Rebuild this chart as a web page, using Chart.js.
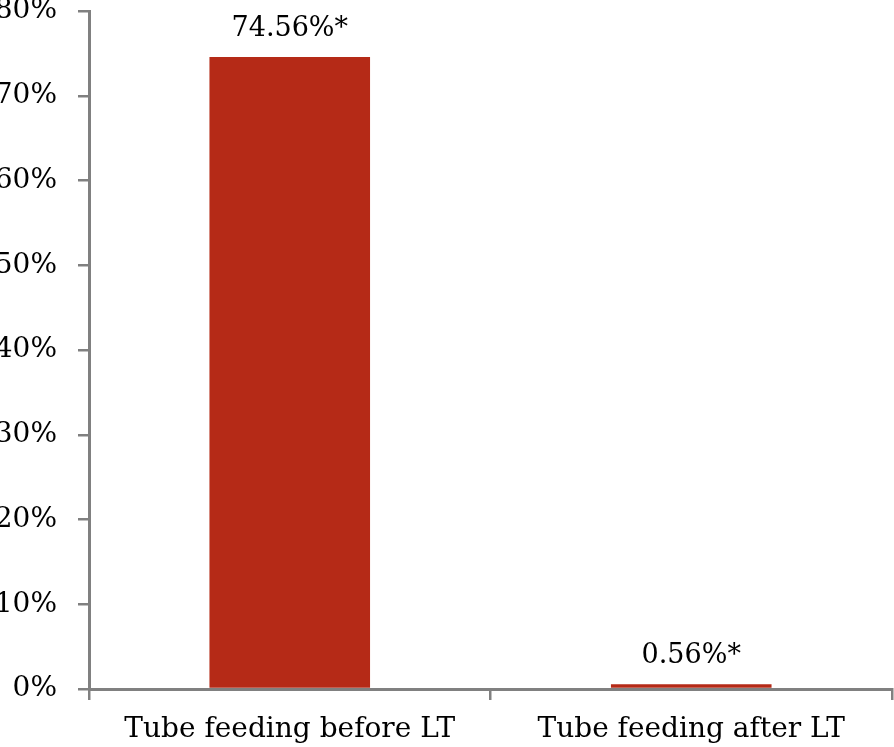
<!DOCTYPE html>
<html>
<head>
<meta charset="utf-8">
<script src="https://cdn.jsdelivr.net/npm/chart.js@4"></script>
<style>
  html, body { margin: 0; padding: 0; background: #fff; }
  #wrap { width: 894px; height: 747px; }
</style>
</head>
<body>
<div id="wrap"><canvas id="tubeChart"></canvas></div>
<script>
// data
const categories = ["Tube feeding before LT", "Tube feeding after LT"];
const values = [74.56, 0.56];
const valueLabels = ["74.56%*", "0.56%*"];
const yTicks = [0, 10, 20, 30, 40, 50, 60, 70, 80];

const axisGray = "#808080";
const barRed = "#B52A17";
const serif = "'DejaVu Serif', serif";

// labels above each bar
const valueLabelPlugin = {
    id: "valueLabels",
    afterDatasetsDraw(chart) {
        const ctx = chart.ctx;
        const meta = chart.getDatasetMeta(0);
        ctx.save();
        ctx.font = "27px " + serif;
        ctx.fillStyle = "#000";
        ctx.textAlign = "center";
        ctx.textBaseline = "middle";
        meta.data.forEach((bar, i) => {
            ctx.fillText(valueLabels[i], bar.x, bar.y - 28);
        });
        ctx.restore();
    },
};

const ctx = document.getElementById("tubeChart").getContext("2d");
new Chart(ctx, {
    type: "bar",
    data: {
        labels: categories,
        datasets: [
            {
                data: values,
                backgroundColor: barRed,
                borderWidth: 0,
                barPercentage: 0.8,
                categoryPercentage: 0.5,
            },
        ],
    },
    options: {
        responsive: true,
        maintainAspectRatio: false,
        animation: false,
        layout: { padding: { top: 11, right: 2, left: 0, bottom: 0 } },
        plugins: {
            legend: { display: false },
            tooltip: { enabled: false },
        },
        scales: {
            x: {
                grid: {
                    offset: true,
                    drawOnChartArea: false,
                    color: axisGray,
                    lineWidth: 2.5,
                    tickLength: 11,
                },
                border: { color: axisGray, width: 3 },
                ticks: {
                    color: "#000",
                    font: { family: serif, size: 28 },
                    padding: 13,
                    maxRotation: 0,
                },
                afterFit: (scale) => {
                    scale.height = 58;
                    scale.paddingLeft = 0;
                    scale.paddingRight = 0;
                },
            },
            y: {
                min: 0,
                max: 80,
                afterBuildTicks: (scale) => {
                    scale.ticks = yTicks.map((v) => ({ value: v }));
                },
                grid: {
                    drawOnChartArea: false,
                    color: axisGray,
                    lineWidth: 2.5,
                    tickLength: 11,
                },
                border: { color: axisGray, width: 3 },
                ticks: {
                    color: "#000",
                    font: { family: serif, size: 28 },
                    padding: 21,
                    callback: (v) => v + "%",
                },
                afterFit: (scale) => {
                    scale.width = 89;
                    scale.paddingTop = 0;
                    scale.paddingBottom = 0;
                },
            },
        },
    },
    plugins: [valueLabelPlugin],
});
</script>
</body>
</html>
